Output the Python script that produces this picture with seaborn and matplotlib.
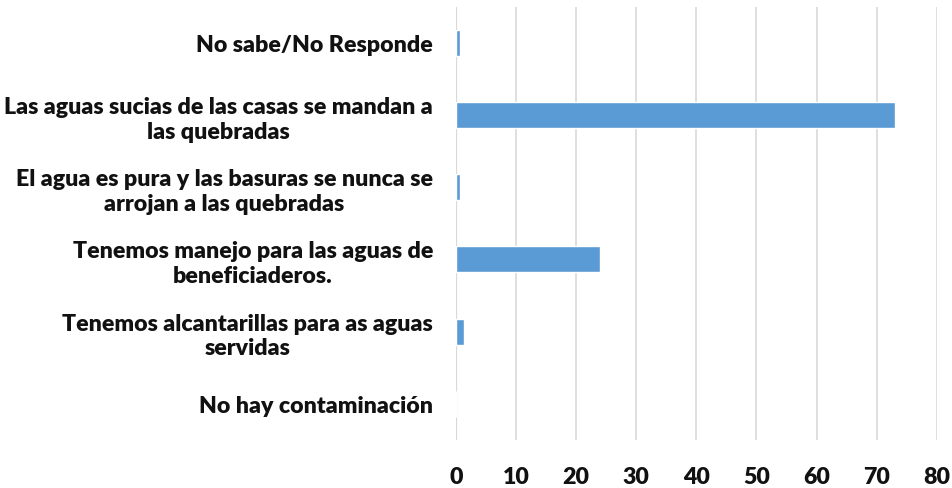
import matplotlib
matplotlib.use("Agg")
import matplotlib.pyplot as plt
import seaborn as sns
import pandas as pd

categories = [
    "No sabe/No Responde",
    "Las aguas sucias de las casas se mandan a\nlas quebradas",
    "El agua es pura y las basuras se nunca se\narrojan a las quebradas",
    "Tenemos manejo para las aguas de\nbeneficiaderos.",
    "Tenemos alcantarillas para as aguas\nservidas",
    "No hay contaminación",
]
values = [0.7, 73.1, 0.7, 24.0, 1.4, 0.0]
xticks = [0, 10, 20, 30, 40, 50, 60, 70, 80]

sns.set_theme(style="white")
plt.rcParams['font.family'] = ['Lato', 'DejaVu Sans']

df = pd.DataFrame({"cat": categories, "val": values})

fig = plt.figure(figsize=(9.52, 4.89), dpi=100)
ax = fig.add_axes([456/952, 1 - 441/489, (936.7 - 456)/952, (441 - 7.5)/489])
sns.barplot(data=df, y="cat", x="val", orient="h", color="#5b9bd5",
            saturation=1, width=0.36, ax=ax)
ax.set_xlim(0, 80)
ax.set_xticks(xticks)
ax.set_xticklabels([str(t) for t in xticks], fontweight=800, fontsize=16.7, color="#111111")
ax.set_yticklabels(categories, fontweight=800, fontsize=16.7, color="#111111",
                   linespacing=1.22, ha="right", multialignment="center")
ax.set_xlabel("")
ax.set_ylabel("")
ax.grid(axis="x", color="#d9d9d9", linewidth=1.2)
ax.set_axisbelow(True)
for s in ax.spines.values():
    s.set_visible(False)
ax.tick_params(axis="y", length=0, pad=16.5)
ax.tick_params(axis="x", length=0, pad=19)
ax.axvline(0, color="#d9d9d9", linewidth=1.6, zorder=0)

fig.savefig("out.png", dpi=100)
